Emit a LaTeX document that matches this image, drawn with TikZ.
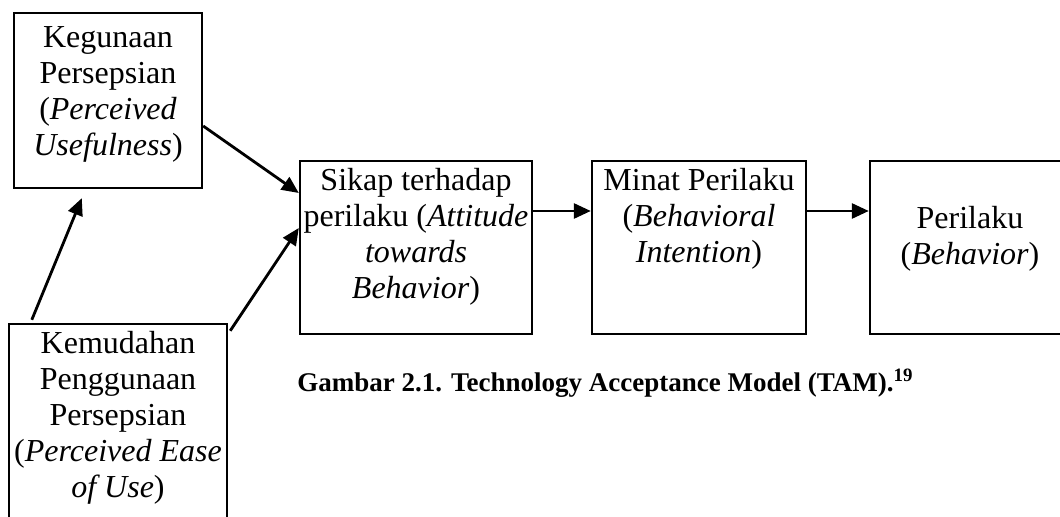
\documentclass[tikz,border=0pt]{standalone}
\usepackage{fontspec}
\setmainfont{Liberation Serif}
\usetikzlibrary{arrows.meta}
\begin{document}
\begin{tikzpicture}[x=0.5pt,y=-0.5pt,
  box/.style={draw, line width=1.2pt, rectangle, inner sep=0pt},
  lbl/.style={anchor=north, align=center, inner sep=0pt, font=\fontsize{16}{18}\selectfont},
  arr/.style={line width=1.4pt, -{Triangle[length=8.5pt,width=7.5pt]}},
  ]
\useasboundingbox (0,0) rectangle (1060,517);
\clip (0,0) rectangle (1060,517);

% construct boxes
\node[box, minimum width=94pt,   minimum height=87.5pt] (pu)  at (108,100.5) {};
\node[box, minimum width=116pt,  minimum height=86.5pt] (att) at (416,247.5) {};
\node[box, minimum width=107pt,  minimum height=86.5pt] (bi)  at (699,247.5) {};
\node[box, minimum width=102.5pt,minimum height=86.5pt] (beh) at (972.5,247.5) {};
\node[box, minimum width=109pt,  minimum height=108pt]  (eou) at (118,432) {};

% box labels
\node[lbl] (pu-t)  at (108,21.8)  {\strut Kegunaan\\Persepsian\\(\textit{Perceived}\\\textit{Usefulness})};
\node[lbl] (att-t) at (416,164.8) {\strut Sikap terhadap\\perilaku (\textit{Attitude}\\\textit{towards}\\\textit{Behavior})};
\node[lbl] (bi-t)  at (699,164.8) {\strut Minat Perilaku\\(\textit{Behavioral}\\\textit{Intention})};
\node[lbl] (beh-t) at (970,202.8) {\strut Perilaku\\(\textit{Behavior})};
\node[lbl] (eou-t) at (118,327.8) {\strut Kemudahan\\Penggunaan\\Persepsian\\(\textit{Perceived Ease}\\\textit{of Use})};

% relations
\draw[arr] ([yshift=-12.75pt]pu.east) -- ([yshift=27.25pt]att.west);
\draw[arr] ([xshift=1pt,yshift=-4pt]eou.north east) -- ([yshift=9.75pt]att.west);
\draw[arr] ([xshift=12pt,yshift=1.5pt]eou.north west) -- ([xshift=34.5pt,yshift=-4.5pt]pu.south west);
\draw[arr] ([yshift=18.25pt]att.east) -- ([yshift=18.25pt]bi.west);
\draw[arr] ([yshift=18.25pt]bi.east) -- ([yshift=18.25pt]beh.west);

% caption
\node[anchor=base west, inner sep=0pt, font=\fontsize{13.5}{15}\selectfont\bfseries] (cap) at (297,392)
  {Gambar 2.1. Technology Acceptance Model (TAM).\textsuperscript{19}};
\end{tikzpicture}
\end{document}
